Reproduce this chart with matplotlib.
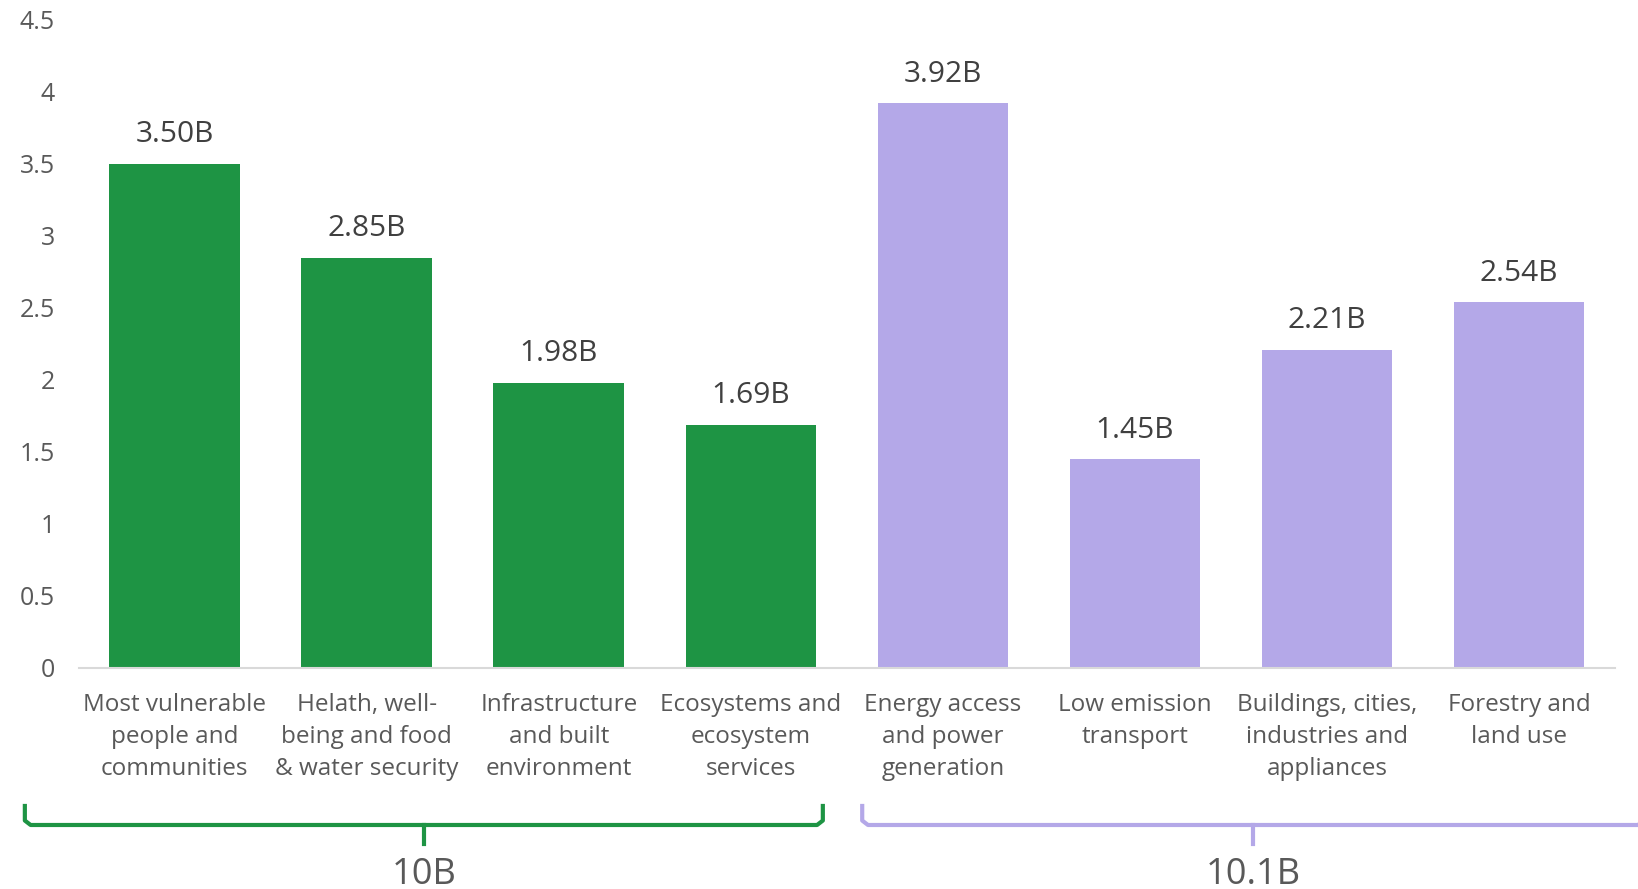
import matplotlib
matplotlib.use("Agg")
import matplotlib.pyplot as plt
import matplotlib.transforms as mtransforms

# chart data
categories = ["Most vulnerable\npeople and\ncommunities",
              "Helath, well-\nbeing and food\n& water security",
              "Infrastructure\nand built\nenvironment",
              "Ecosystems and\necosystem\nservices",
              "Energy access\nand power\ngeneration",
              "Low emission\ntransport",
              "Buildings, cities,\nindustries and\nappliances",
              "Forestry and\nland use"]
values = [3.50, 2.85, 1.98, 1.69, 3.92, 1.45, 2.21, 2.54]
value_labels = ["3.50B", "2.85B", "1.98B", "1.69B", "3.92B", "1.45B", "2.21B", "2.54B"]
group_totals = ["10B", "10.1B"]
yticks = [0, 0.5, 1, 1.5, 2, 2.5, 3, 3.5, 4, 4.5]
ytick_labels = ["0", "0.5", "1", "1.5", "2", "2.5", "3", "3.5", "4", "4.5"]

green = "#1E9444"
purple = "#B4A8E8"
grey = "#595959"
colors = [green] * 4 + [purple] * 4

plt.rcParams['font.family'] = ['Open Sans', 'DejaVu Sans']

fig = plt.figure(figsize=(16.38, 8.89), dpi=100)
ax = fig.add_axes([0.048, 0.2486, 0.938, 0.729])

x = list(range(len(values)))
ax.bar(x, values, width=0.68, color=colors, zorder=2)

# value labels above bars
for xi, v, lab in zip(x, values, value_labels):
    ax.annotate(lab, (xi, v), xytext=(0, 21), textcoords="offset points",
                ha="center", va="center", fontsize=21.5, color="#404040")

ax.set_xlim(-0.5, 7.5)
ax.set_ylim(0, 4.5)
ax.set_yticks(yticks)
ax.set_yticklabels(ytick_labels, fontsize=18, color=grey)
ax.set_xticks(x)
ax.set_xticklabels(categories, fontsize=17.5, color=grey, linespacing=1.45)
ax.tick_params(axis="y", length=0, pad=17)
ax.tick_params(axis="x", length=0, pad=18)

for s in ["top", "right", "left"]:
    ax.spines[s].set_visible(False)
ax.spines["bottom"].set_color("#D9D9D9")
ax.spines["bottom"].set_linewidth(1.5)

# group brackets under the categories
trans = mtransforms.blended_transform_factory(ax.transData, fig.transFigure)
brackets = [(-0.78, 3.375, green, group_totals[0]),
            (3.58, 7.65, purple, group_totals[1])]
y_top, y_bar, y_tip = 0.0934, 0.072, 0.0506
r = 0.03  # small rounding at the bracket corners
for x0, x1, col, total in brackets:
    xm = (x0 + x1) / 2
    ax.plot([x0, x0, x0 + r, x1 - r, x1, x1],
            [y_top, y_bar + 0.005, y_bar, y_bar, y_bar + 0.005, y_top],
            color=col, lw=3, transform=trans, clip_on=False,
            solid_joinstyle="round")
    ax.plot([xm, xm], [y_bar, y_tip], color=col, lw=3,
            transform=trans, clip_on=False)
    ax.text(xm, 0.016, total, transform=trans, ha="center", va="center",
            fontsize=26, color=grey)

fig.savefig("out.png", dpi=100)
